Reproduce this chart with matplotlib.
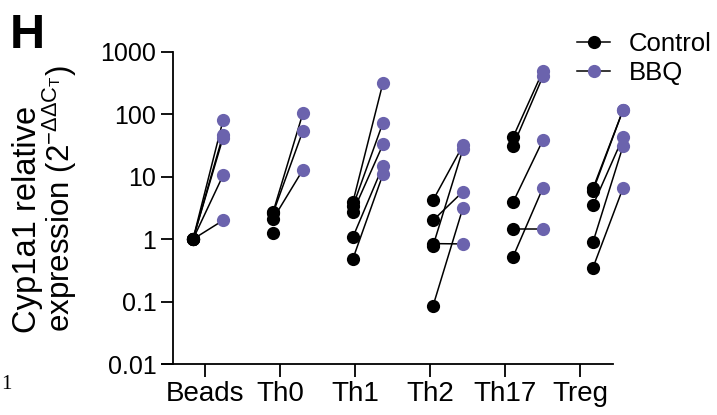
import numpy as np
import matplotlib
matplotlib.use('Agg')
import matplotlib.pyplot as plt


# values (2^-ddCT), one pair per animal
groups = ['Beads', 'Th0', 'Th1', 'Th2', 'Th17', 'Treg']

control = [
    [1.0, 1.0, 1.0, 1.0, 1.0],
    [2.7, 2.6, 2.1, 1.28],
    [4.0, 3.4, 2.75, 1.09, 0.49],
    [4.2, 2.0, 0.78, 0.85, 0.085],
    [43, 31, 3.9, 1.45, 0.52],
    [6.5, 6.0, 3.5, 0.9, 0.35],
]
bbq = [
    [80, 47, 42, 10.5, 2.0],
    [106, 55, 13, np.nan],
    [322, 74, 33, 15, 11],
    [32, 5.8, 28, 0.84, 3.2],
    [500, 410, 39, 1.45, 6.7],
    [117, 117, 43, 31, 6.6],
]

y_ticks = [0.01, 0.1, 1, 10, 100, 1000]
y_ticklabels = ['0.01', '0.1', '1', '10', '100', '1000']

PURPLE = '#6b63ad'
W, H = 717, 415

plt.rcParams['font.family'] = ['Liberation Sans', 'DejaVu Sans']
plt.rcParams['mathtext.fontset'] = 'custom'
plt.rcParams['mathtext.rm'] = 'Liberation Sans'
plt.rcParams['mathtext.it'] = 'Liberation Sans'
plt.rcParams['mathtext.default'] = 'regular'


def px(x, y):
    return x / W, 1 - y / H


fig = plt.figure(figsize=(W / 100, H / 100), dpi=100)
ax = fig.add_axes([162 / W, (H - 364) / H, (613 - 162) / W, (364 - 52) / H])

gap = 0.375
for i, (c, b) in enumerate(zip(control, bbq)):
    xc = np.full(len(c), i)
    xb = xc + gap
    for k in range(len(c)):
        ax.plot([xc[k], xb[k]], [c[k], b[k]], color='black', lw=1.1,
                zorder=2, clip_on=False)
    ax.plot(xc, c, 'o', color='black', ms=9.5, mec='none', zorder=3, clip_on=False)
    ax.plot(xb, b, 'o', color=PURPLE, ms=9.5, mec='none', zorder=4, clip_on=False)

ax.set_yscale('log')
ax.set_ylim(0.01, 1000)
ax.set_xlim(-0.3875, 5.25)
ax.set_yticks(y_ticks)
ax.set_yticklabels(y_ticklabels)
ax.minorticks_off()
ax.set_xticks(0.15 + 0.9375 * np.arange(len(groups)))
ax.set_xticklabels(groups)

ax.spines['top'].set_visible(False)
ax.spines['right'].set_visible(False)
ax.spines['left'].set_position(('data', -0.25))
for s in ['left', 'bottom']:
    ax.spines[s].set_linewidth(1.3)
ax.tick_params(axis='x', length=9, width=1.3, labelsize=20, pad=3)
ax.tick_params(axis='y', length=9, width=1.3, labelsize=18, pad=3)

# legend
h1, = ax.plot([], [], 'o-', color='black', ms=9.5, mec='none', lw=1.1)
h2, = ax.plot([], [], 'o-', color='black', mfc=PURPLE, ms=9.5, mec='none', lw=1.1)
fig.legend([h1, h2], ['Control', 'BBQ'], loc='upper left',
           bbox_to_anchor=px(577, 32), frameon=False, fontsize=18.5,
           handlelength=1.3, handletextpad=0.7, labelspacing=0.2,
           borderpad=0, borderaxespad=0)

# y label, two lines placed separately
fig.text(*px(28, 219), 'Cyp1a1 relative', rotation=90, fontsize=23.5,
         ha='center', va='center')
fig.text(*px(60, 198), r'expression (2$^{-\Delta\Delta C_{T}}$)', rotation=90,
         fontsize=22.5, ha='center', va='center')

# panel letter
fig.text(*px(10, 48), 'H', fontsize=35, fontweight='bold', ha='left', va='baseline')

# glyph left over from the neighbouring panel
fig.text(*px(1, 389), '1', fontsize=15, family='Liberation Serif',
         ha='left', va='baseline')

fig.savefig('out.png', dpi=100)
